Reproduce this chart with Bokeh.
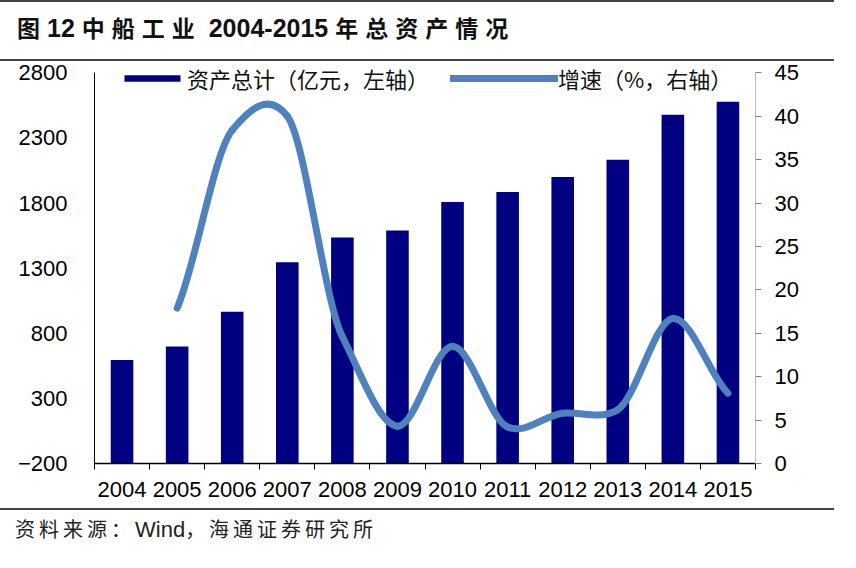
from bokeh.plotting import figure
from bokeh.models import (Range1d, LinearAxis, FixedTicker, Legend, LegendItem, Div)
from bokeh.layouts import column
from bokeh.embed import file_html
from bokeh.resources import INLINE

# data
years = ["2004", "2005", "2006", "2007", "2008", "2009",
         "2010", "2011", "2012", "2013", "2014", "2015"]
assets = [595, 698, 965, 1345, 1536, 1590, 1808, 1885, 2000, 2133, 2478, 2578]
growth = [None, 17.9, 38.4, 40.0, 14.6, 4.3, 13.5, 4.2, 5.8, 6.2, 16.7, 8.1]
left_ticks = [-200, 300, 800, 1300, 1800, 2300, 2800]
right_ticks = [0, 5, 10, 15, 20, 25, 30, 35, 40, 45]

title_text = "图12 中船工业 2004-2015 年总资产情况"
source_text = "资料来源：Wind，海通证券研究所"
bar_label = "资产总计（亿元，左轴）"
line_label = "增速（%，右轴）"

NAVY = "#000080"
BLUE = "#4F81BD"
RULE = "#444444"
LATIN = "Liberation Sans"
CJK = "Noto Sans CJK SC"
W = 834

xs = [i + 0.5 for i in range(len(years))]

# a little head room above the top tick so the legend sits inside the frame
head = 0.029
p = figure(width=W, height=447, x_range=Range1d(0, len(years)),
           y_range=Range1d(left_ticks[0],
                           left_ticks[-1] + (left_ticks[-1] - left_ticks[0]) * head),
           output_backend="svg", toolbar_location=None,
           min_border_left=94, min_border_right=79,
           min_border_top=0, min_border_bottom=45, margin=0)
p.extra_y_ranges = {"right": Range1d(right_ticks[0],
                                     right_ticks[-1] * (1 + head))}
p.title.visible = False
p.outline_line_color = None
p.xgrid.visible = False
p.ygrid.visible = False

bars = p.vbar(x=xs, top=assets, bottom=left_ticks[0], width=0.41,
              fill_color=NAVY, line_color=None)

# smoothed growth line (bezier segments through the data points)
gx = [x for x, g in zip(xs, growth) if g is not None]
gy = [g for g in growth if g is not None]
n = len(gx)
TENSION = 0.7
def tangent(vals, k):
    if k == 0:
        return vals[1] - vals[0]
    if k == n - 1:
        return vals[-1] - vals[-2]
    return (vals[k + 1] - vals[k - 1]) / 2.0
tx = [tangent(gx, k) for k in range(n)]
ty = [tangent(gy, k) * TENSION for k in range(n)]
seg = dict(
    x0=gx[:-1], y0=gy[:-1], x1=gx[1:], y1=gy[1:],
    cx0=[gx[k] + tx[k] / 3 for k in range(n - 1)],
    cy0=[gy[k] + ty[k] / 3 for k in range(n - 1)],
    cx1=[gx[k + 1] - tx[k + 1] / 3 for k in range(n - 1)],
    cy1=[gy[k + 1] - ty[k + 1] / 3 for k in range(n - 1)],
)
curve = p.bezier(**seg, line_color=BLUE, line_width=7, line_cap="round",
                 y_range_name="right")

# x axis: labels at category centres, tick marks at boundaries
xa = p.xaxis[0]
xa.ticker = FixedTicker(ticks=xs, minor_ticks=list(range(len(years) + 1)))
xa.major_label_overrides = {x: y for x, y in zip(xs, years)}
xa.major_tick_out = 0
xa.major_tick_in = 0
xa.minor_tick_out = 6
xa.minor_tick_in = 0
xa.minor_tick_line_color = "black"
xa.axis_line_color = "black"
xa.axis_line_width = 1.5
xa.major_label_standoff = 12
xa.major_label_text_font = LATIN
xa.major_label_text_font_size = "22px"
xa.major_label_text_color = "black"

ya = p.yaxis[0]
ya.ticker = FixedTicker(ticks=left_ticks)
ya.bounds = (left_ticks[0], left_ticks[-1])
ya.major_tick_out = 0
ya.major_tick_in = 0
ya.minor_tick_line_color = None
ya.axis_line_color = "black"
ya.major_label_standoff = 27
ya.major_label_text_font = LATIN
ya.major_label_text_font_size = "22px"
ya.major_label_text_color = "black"

ra = LinearAxis(y_range_name="right", ticker=FixedTicker(ticks=right_ticks),
                bounds=(right_ticks[0], right_ticks[-1]))
ra.axis_line_color = "#b8b8b8"
ra.major_tick_line_color = "#808080"
ra.major_tick_out = 6
ra.major_tick_in = 0
ra.minor_tick_line_color = None
ra.major_label_standoff = 13
ra.major_label_text_font = LATIN
ra.major_label_text_font_size = "22px"
ra.major_label_text_color = "black"
p.add_layout(ra, "right")

def make_legend(label, rend, loc, gw, gh):
    return Legend(items=[LegendItem(label=label, renderers=[rend])],
                  location=loc, glyph_width=gw, glyph_height=gh,
                  label_standoff=0, padding=0, margin=0, spacing=0,
                  border_line_color=None, background_fill_alpha=0,
                  label_text_font=CJK, label_text_font_size="22px",
                  label_text_color="#111111")

p.add_layout(make_legend(bar_label, bars, (23, 369), 70, 8), "center")
p.add_layout(make_legend(line_label, curve, (356, 369), 108, 8), "center")

def cjk_spans(text, spacing, cjk_size, latin_size):
    # wrap CJK runs so they can be spaced out like the original
    out, run, is_cjk = [], "", None
    for ch in text:
        c = ord(ch) > 0x2e80
        if is_cjk is not None and c != is_cjk:
            out.append((run, is_cjk))
            run = ""
        run += ch
        is_cjk = c
    out.append((run, is_cjk))
    html = ""
    for chunk, c in out:
        if c:
            html += (f'<span style="font-family:\'{CJK}\';font-size:{cjk_size}px;'
                     f'letter-spacing:{spacing}px">{chunk}</span>')
        else:
            html += (f'<span style="font-family:\'{LATIN}\';'
                     f'font-size:{latin_size}px">{chunk}</span>')
    return html

def rule():
    return Div(text="", width=W, height=2, margin=0,
               styles={"background-color": RULE})

title_div = Div(
    text=('<div style="line-height:50px;padding-left:17px;font-weight:bold;'
          'color:#111111;white-space:nowrap">'
          + cjk_spans(title_text, 7, 23, 25) + '</div>'),
    width=W, height=57, margin=0, styles={"overflow": "hidden"})
source_div = Div(
    text=('<div style="line-height:38px;padding-left:15px;'
          'color:#222222;white-space:nowrap">'
          + cjk_spans(source_text, 4, 20, 22) + '</div>'),
    width=W, height=38, margin=0, styles={"overflow": "hidden"})

layout = column(rule(), title_div, rule(), p, rule(), source_div,
                spacing=0, margin=0)

open("out.html", "w").write(file_html(layout, INLINE))
